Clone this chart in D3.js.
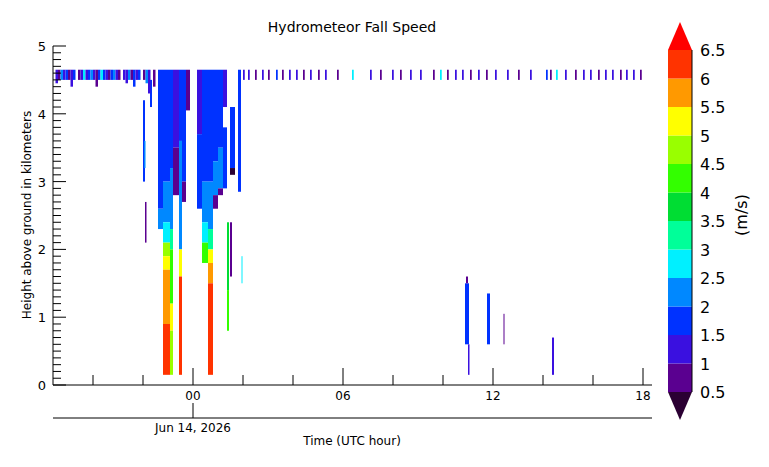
<!DOCTYPE html><html><head><script src="https://cdn.jsdelivr.net/npm/d3@7"></script>
<style>body{margin:0;background:#fff}text{font-family:"DejaVu Sans",sans-serif}</style></head><body><svg id="c" width="769" height="467"></svg>
<script>
const thresholds=[0.5,1,1.5,2,2.5,3,3.5,4,4.5,5,5.5,6,6.5];
const palette=["#2b0033","#5a0090","#3a10e0","#0032ff","#0088ff","#00f0ff","#00ff99","#00dd33","#33ff00","#99ff00","#ffff00","#ff9900","#ff3300","#ff0000"];
const xTicks=[-4,-2,0,2,4,6,8,10,12,14,16,18];
const xLabels={0:"00",6:"06",12:"12",18:"18"};
// streak segments: [t0,t1,topKm,bottomKm,speed]
const streaks=[
[-2.0,-1.92,4.2,3.0,1.5],[-1.96,-1.9,3.6,3.2,2.1],[-1.92,-1.86,2.7,2.1,0.8],[-1.72,-1.64,4.5,4.1,1.5],
[-1.40,-1.2,4.65,2.6,1.6],[-1.40,-1.2,2.6,2.3,2.3],
[-1.2,-0.92,4.65,3.0,1.7],[-1.2,-0.92,3.0,2.4,2.2],[-1.2,-0.92,2.4,2.1,2.7],[-1.2,-0.92,2.1,1.9,4.7],[-1.2,-0.92,1.9,1.7,5.2],[-1.2,-0.92,1.7,0.9,5.8],[-1.2,-0.92,0.9,0.15,6.2],
[-0.92,-0.8,4.65,3.2,1.7],[-0.92,-0.8,3.2,2.3,2.3],[-0.92,-0.8,2.3,2.0,3.2],[-0.92,-0.8,2.0,1.2,4.2],[-0.92,-0.8,1.2,0.8,5.2],[-0.92,-0.8,0.8,0.15,4.7],
[-0.8,-0.56,4.65,3.5,1.3],[-0.8,-0.56,3.5,2.8,0.8],
[-0.56,-0.44,4.65,3.6,1.6],[-0.56,-0.44,3.6,2.0,2.3],[-0.56,-0.44,2.0,1.6,5.2],[-0.56,-0.44,1.6,0.15,6.2],
[-0.44,-0.28,4.65,3.0,1.6],[-0.44,-0.28,3.0,2.7,0.8],
[-0.28,-0.12,4.65,4.05,0.8],
[0.16,0.36,4.65,3.7,1.2],[0.16,0.36,3.7,2.6,1.6],
[0.36,0.6,4.65,3.0,1.6],[0.36,0.6,3.0,2.4,2.2],[0.36,0.6,2.4,2.1,2.7],[0.36,0.6,2.1,1.8,4.2],
[0.6,0.8,4.65,3.0,1.7],[0.6,0.8,3.0,2.3,2.4],[0.6,0.8,2.3,2.0,3.3],[0.6,0.8,2.0,1.8,5.2],[0.6,0.8,1.8,1.5,5.8],[0.6,0.8,1.5,0.15,6.2],
[0.8,1.0,4.65,3.3,1.6],[0.8,1.0,3.3,2.8,2.4],[0.8,1.0,2.8,2.6,0.8],
[1.0,1.2,4.65,3.5,1.7],[1.0,1.2,3.5,2.9,2.4],[1.0,1.2,2.9,2.8,0.8],
[1.2,1.36,4.65,4.1,1.2],[1.2,1.36,3.8,2.9,1.6],
[1.36,1.44,2.4,1.4,3.5],[1.36,1.44,1.4,0.8,4.3],[1.48,1.56,2.4,1.6,0.8],
[1.48,1.68,4.1,3.2,1.7],[1.48,1.68,3.2,3.1,0.3],
[1.8,1.92,4.65,2.85,1.6],[1.94,1.98,1.9,1.5,2.7],
[10.88,11.04,1.5,0.6,1.5],[10.92,11.0,1.6,1.5,0.8],[11.0,11.06,0.6,0.15,1.0],
[11.76,11.88,1.35,0.6,1.5],[12.42,12.46,1.05,0.6,0.9],[14.36,14.44,0.7,0.15,1.0]
];
// top band columns near 4.5-4.65 km
const bandT=[-5.5,-5.4,-5.3,-5.2,-5.1,-5.0,-4.9,-4.8,-4.7,-4.6,-4.5,-4.4,-4.3,-4.2,-4.1,-4.0,-3.9,-3.8,-3.7,-3.6,-3.5,-3.4,-3.3,-3.2,-3.1,-3.0,-2.9,-2.8,-2.7,-2.6,-2.5,-2.4,-2.3,-2.2,-2.1,-2.0,-1.9,-1.8,-1.6,
2.0,2.2,2.48,2.76,3.0,3.32,3.56,3.84,4.12,4.4,4.68,5.0,5.28,5.76,6.36,7.08,7.48,7.96,8.28,8.68,9.08,9.6,9.88,10.16,10.48,10.76,11.08,11.4,11.72,12.08,12.56,13.0,13.48,14.12,14.28,14.52,14.88,15.28,15.6,15.88,16.2,16.48,16.76,17.08,17.32,17.6,17.88,18.16];
const bandV=[1.2,0.8,2.3,1.0,1.5,0.8,1.3,1.6,0,0.9,1.2,2.6,1.4,1.6,2.2,1.3,0.8,1.7,2.8,1.5,1.2,0.8,1.6,2.4,1.3,0.9,0,1.4,1.1,2.2,0.8,1.5,1.2,1.8,0,0.9,2.4,1.2,0.8,
1.0,1.3,0.8,1.2,0.9,1.5,0.8,1.2,1.0,0.8,1.3,0.9,1.2,0.8,2.7,1.2,0.9,1.3,0.8,1.0,1.2,0.9,2.6,0.8,1.3,1.0,0.9,1.2,0.8,1.4,1.0,0.8,1.2,1.5,0.9,2.6,1.2,0.8,1.3,1.0,0.9,1.2,1.4,0.8,1.3,1.0,0.9,1.2];
const bandBot=[4.45,4.5,4.5,4.5,4.5,4.5,4.4,4.5,4.5,4.5,4.5,4.5,4.5,4.5,4.5,4.5,4.4,4.5,4.5,4.5,4.5,4.5,4.5,4.5,4.5,4.5,4.5,4.5,4.45,4.5,4.5,4.4,4.5,4.5,4.5,4.5,4.45,4.3,4.4,
4.5,4.5,4.5,4.5,4.5,4.5,4.5,4.5,4.5,4.5,4.5,4.5,4.5,4.5,4.5,4.5,4.5,4.5,4.5,4.5,4.5,4.5,4.5,4.5,4.5,4.5,4.5,4.5,4.5,4.5,4.5,4.5,4.5,4.5,4.5,4.5,4.5,4.5,4.5,4.5,4.5,4.5,4.5,4.5,4.5,4.5,4.5];

const svg=d3.select("#c");
const x=d3.scaleLinear().domain([-5.6,18.36]).range([53,652]);
const y=d3.scaleLinear().domain([0,5]).range([385,46]);
const col=d3.scaleThreshold().domain(thresholds).range(palette);
const g=svg.append("g");
streaks.forEach(s=>g.append("rect").attr("x",x(s[0])).attr("width",x(s[1])-x(s[0])).attr("y",y(s[2])).attr("height",y(s[3])-y(s[2])).attr("fill",col(s[4])));
bandT.forEach((t,i)=>{ if(!bandV[i])return; const w=i<39?0.1:0.07;
 g.append("rect").attr("x",x(t)).attr("width",x(t+w)-x(t)).attr("y",y(4.65)).attr("height",y(bandBot[i])-y(4.65)).attr("fill",col(bandV[i]));});
// axes
const ax=svg.append("g").attr("stroke","#000").attr("fill","none");
ax.append("line").attr("x1",53).attr("x2",652).attr("y1",385).attr("y2",385);
ax.append("line").attr("x1",53).attr("x2",53).attr("y1",46).attr("y2",385);
d3.range(0,51).forEach(i=>{const v=i/10,maj=i%10==0;ax.append("line").attr("x1",53).attr("x2",53+(maj?13:8)).attr("y1",y(v)).attr("y2",y(v));});
xTicks.forEach(t=>{const maj=xLabels[t]!==undefined;ax.append("line").attr("x1",x(t)).attr("x2",x(t)).attr("y1",385).attr("y2",385-(maj?17:10));});
[0,1,2,3,4,5].forEach(v=>svg.append("text").attr("x",46).attr("y",y(v)+5).attr("text-anchor","end").attr("font-size",13).text(v));
Object.keys(xLabels).forEach(k=>svg.append("text").attr("x",x(+k)).attr("y",400).attr("text-anchor","middle").attr("font-size",12).text(xLabels[k]));
ax.append("line").attr("x1",53).attr("x2",652).attr("y1",418).attr("y2",418);
ax.append("line").attr("x1",x(0)).attr("x2",x(0)).attr("y1",403).attr("y2",418);
svg.append("text").attr("x",x(0)).attr("y",432).attr("text-anchor","middle").attr("font-size",12).text("Jun 14, 2026");
svg.append("text").attr("x",352).attr("y",445).attr("text-anchor","middle").attr("font-size",12).text("Time (UTC hour)");
svg.append("text").attr("x",352).attr("y",32).attr("text-anchor","middle").attr("font-size",14).text("Hydrometeor Fall Speed");
svg.append("text").attr("transform","translate(31,215) rotate(-90)").attr("text-anchor","middle").attr("font-size",12).text("Height above ground in kilometers");
// colorbar
const cy=d3.scaleLinear().domain([0.5,6.5]).range([392,50]);
const cb=svg.append("g");
for(let i=0;i<12;i++){cb.append("rect").attr("x",668).attr("width",24).attr("y",cy(thresholds[i+1])).attr("height",cy(thresholds[i])-cy(thresholds[i+1])).attr("fill",palette[i+1]);}
cb.append("path").attr("d",`M668,${cy(6.5)}L680,22L692,${cy(6.5)}Z`).attr("fill",palette[13]);
cb.append("path").attr("d",`M668,${cy(0.5)}L680,420L692,${cy(0.5)}Z`).attr("fill",palette[0]);
cb.append("line").attr("x1",692).attr("x2",692).attr("y1",cy(6.5)).attr("y2",cy(0.5)).attr("stroke","#000");
thresholds.forEach(v=>cb.append("text").attr("x",700).attr("y",cy(v)+6).attr("font-size",16).text(v));
svg.append("text").attr("transform","translate(747,215) rotate(-90)").attr("text-anchor","middle").attr("font-size",16).text("(m/s)");
</script></body></html>
